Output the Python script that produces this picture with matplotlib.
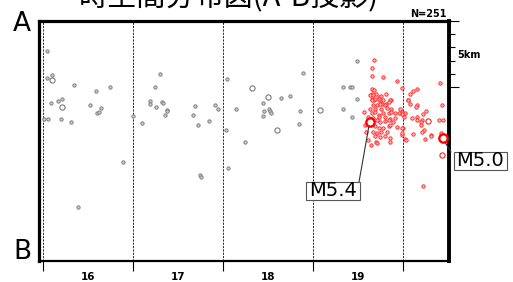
import matplotlib
matplotlib.use("Agg")
import matplotlib.pyplot as plt
from matplotlib.patches import Rectangle
from matplotlib.transforms import blended_transform_factory
import numpy as np

# events before the recent sequence: (decimal year, km from A along A-B)
gray_pts = [
    (2016.05, 2.26), (2016.10, 4.10), (2016.04, 4.31), (2016.34, 4.80), (2016.59, 5.28),
    (2016.74, 4.95), (2016.09, 6.19), (2016.17, 6.04), (2016.21, 5.84), (2016.01, 7.39),
    (2016.06, 7.34), (2016.20, 7.37), (2016.31, 7.63), (2016.52, 6.29), (2016.65, 6.57),
    (2016.60, 6.94), (2016.62, 6.87), (2016.89, 10.62), (2016.39, 13.96),
    (2017.00, 7.14), (2017.10, 7.69), (2017.24, 4.95), (2017.30, 4.03), (2017.19, 6.04),
    (2017.19, 6.22), (2017.26, 6.44), (2017.32, 6.10), (2017.33, 6.17), (2017.38, 6.72),
    (2017.38, 6.81), (2017.36, 7.11), (2017.69, 6.40), (2017.67, 7.07), (2017.72, 7.84),
    (2017.85, 7.51), (2017.91, 6.34), (2017.94, 6.62), (2017.74, 11.59), (2017.76, 11.74),
    (2018.04, 4.40), (2018.14, 6.62), (2018.03, 8.16), (2018.06, 11.02), (2018.25, 9.13),
    (2018.44, 6.14), (2018.64, 5.77), (2018.74, 5.62), (2018.46, 6.81), (2018.51, 6.64),
    (2018.52, 6.77), (2018.53, 6.96), (2018.44, 7.14), (2018.86, 6.74), (2018.84, 7.78),
    (2018.89, 3.96),
    (2019.33, 5.00), (2019.41, 5.00), (2019.43, 5.00), (2019.49, 3.04), (2019.49, 5.90),
    (2019.33, 6.62), (2019.43, 7.22),
]
gray_big = [(2016.10, 4.48), (2016.21, 6.47), (2018.32, 5.05), (2018.50, 5.72),
            (2018.60, 8.16), (2019.08, 6.72)]

# recent sequence (red)
red_pts = [
    (2019.68, 2.96), (2019.66, 3.53), (2019.65, 4.18), (2019.78, 4.25), (2019.93, 4.53),
    (2019.66, 5.10), (2019.68, 5.17), (2019.66, 5.47), (2019.70, 5.52), (2019.73, 5.72),
    (2019.76, 5.65), (2019.81, 5.47), (2019.66, 5.84), (2019.68, 5.97), (2019.74, 6.02),
    (2019.77, 6.22), (2019.81, 6.27), (2019.87, 5.97), (2019.87, 6.66), (2019.91, 6.96),
    (2019.99, 6.84),
    (2020.41, 4.68), (2020.15, 5.10), (2020.11, 5.28), (2020.08, 5.47), (2019.99, 5.02),
    (2020.05, 5.97), (2020.08, 6.27), (2020.15, 6.34), (2020.14, 6.51), (2020.43, 6.29),
    (2020.26, 6.77), (2020.22, 7.01), (2020.15, 7.22), (2020.10, 7.26), (2020.02, 6.96),
    (2019.99, 7.01), (2020.01, 7.22), (2020.21, 7.41), (2020.20, 7.59), (2020.40, 7.41),
    (2020.44, 7.41), (2020.00, 8.08), (2020.23, 8.21), (2020.11, 8.46), (2020.21, 8.38),
    (2020.31, 8.60), (2020.24, 8.90), (2020.02, 8.90), (2019.99, 8.58), (2020.42, 8.41),
    (2020.22, 12.39),
    (2019.63, 5.60), (2019.67, 5.54), (2019.65, 5.97), (2019.69, 5.90), (2019.73, 5.84),
    (2019.78, 5.97), (2019.86, 5.97), (2019.84, 6.10), (2019.67, 6.34), (2019.71, 6.29),
    (2019.74, 6.22), (2019.80, 6.34), (2019.63, 6.59), (2019.69, 6.64), (2019.76, 6.59),
    (2019.82, 6.54), (2019.65, 6.96), (2019.69, 6.84), (2019.73, 7.04), (2019.78, 6.96),
    (2019.84, 6.89), (2019.87, 6.84), (2019.95, 6.89), (2019.61, 7.22), (2019.67, 7.29),
    (2019.73, 7.24), (2019.80, 7.22), (2019.86, 7.34), (2019.91, 7.29), (2019.97, 6.59),
    (2019.71, 7.44), (2019.74, 7.56), (2019.80, 7.51), (2019.84, 7.44), (2019.89, 7.61),
    (2019.69, 7.93), (2019.73, 8.06), (2019.78, 8.01), (2019.84, 7.93), (2019.67, 8.31),
    (2019.71, 8.43), (2019.76, 8.36), (2019.82, 8.31), (2019.69, 8.68), (2019.74, 8.75),
    (2019.80, 8.68), (2019.86, 8.81), (2019.70, 9.10), (2019.86, 9.10), (2019.99, 8.06),
    (2019.99, 8.43), (2019.85, 7.81), (2019.57, 6.87), (2019.58, 7.84), (2019.59, 8.36),
    (2019.64, 9.33), (2019.61, 8.96), (2019.71, 9.15), (2019.93, 7.96), (2020.03, 8.96),
    (2020.06, 5.97), (2020.16, 7.46), (2020.31, 8.66), (2020.20, 7.84),
]
red_big = [(2020.28, 7.51), (2020.43, 10.07)]

# main shocks
main_names = ["M5.4", "M5.0"]
main_year = [2019.63, 2020.44]
main_km = [7.57, 8.83]

years = [2016, 2017, 2018, 2019, 2020]
year_labels = ["16", "17", "18", "19"]

fig = plt.figure(figsize=(5.13, 2.82), dpi=100)
ax = fig.add_axes([39 / 513, 1 - 261 / 282, 410 / 513, 240.5 / 282])

g = np.array(gray_pts)
gb = np.array(gray_big)
r = np.array(red_pts)
rb = np.array(red_big)

ax.scatter(g[:, 0], g[:, 1], s=6, facecolor="#c4c4c4", edgecolor="#7a7a7a", lw=0.6, zorder=3)
ax.scatter(gb[:, 0], gb[:, 1], s=14, facecolor="white", edgecolor="#7a7a7a", lw=0.8, zorder=3)
ax.scatter(r[:, 0], r[:, 1], s=6, facecolor="#ffb4b4", edgecolor="#ff2020", lw=0.6, zorder=4)
ax.scatter(rb[:, 0], rb[:, 1], s=14, facecolor="white", edgecolor="#ff2020", lw=0.8, zorder=4)
ax.scatter(main_year, main_km, s=36, facecolor="white", edgecolor="#ff0000", lw=1.7, zorder=5)

for yr in years:
    ax.axvline(yr, color="black", lw=0.6, ls=(0, (2.5, 1.5)), zorder=1)

ax.set_xlim(2015.956, 2020.511)
ax.set_ylim(18, 0)

# bottom: year ticks, labels centred in each year
ax.set_xticks(years)
ax.set_xticklabels([])
ax.set_xticks([y + 0.5 for y in years[:-1]], year_labels, minor=True)
ax.tick_params(axis="x", which="major", length=7.5, width=0.8, direction="out")
ax.tick_params(axis="x", which="minor", length=0, pad=8)
for lab in ax.get_xticklabels(minor=True):
    lab.set_fontsize(7.5)
    lab.set_fontweight("bold")

# right: 5 km scale bar
ax.yaxis.tick_right()
ax.set_yticks([0, 5])
ax.set_yticklabels([])
ax.set_yticks([1, 2, 3, 4], minor=True)
ax.tick_params(axis="y", which="major", length=7.5, width=0.8, direction="out")
ax.tick_params(axis="y", which="minor", length=4, width=0.8, direction="out")
trans = blended_transform_factory(ax.transAxes, ax.transData)
ax.text(1.02, 2.6, "5km", transform=trans, fontsize=7, fontweight="bold", va="center", ha="left")

ax.spines["left"].set_linewidth(2.3)
ax.spines["top"].set_linewidth(2.3)
ax.spines["right"].set_linewidth(2.8)
ax.spines["bottom"].set_linewidth(1.6)

# leader lines and boxed labels (positions in figure pixels)
H = 282
boxes = [(306, 182, 360, 200), (454, 152, 507, 170)]
anchors = [(359, 182), (451, 152)]
for name, yx, ykm, (x0, y0, x1, y1), (axp, ayp) in zip(main_names, main_year, main_km, boxes, anchors):
    ax.annotate("", xy=(yx, ykm), xytext=(axp, H - ayp), textcoords="figure pixels",
                arrowprops=dict(arrowstyle="-", lw=0.8, color="#333333", shrinkA=0, shrinkB=4),
                annotation_clip=False, zorder=6)
    fig.patches.append(Rectangle((x0 / 513, 1 - y1 / H), (x1 - x0) / 513, (y1 - y0) / H,
                                 transform=fig.transFigure, facecolor="white",
                                 edgecolor="#555555", lw=0.8, zorder=7))
    fig.text((x0 + x1) / 2 / 513, 1 - (y0 + y1) / 2 / H, name, fontsize=14,
             ha="center", va="center", zorder=8)

fig.text(22 / 513, 1 - 24 / H, "A", fontsize=19, ha="center", va="center")
fig.text(22 / 513, 1 - 252 / H, "B", fontsize=19, ha="center", va="center")
fig.text(447 / 513, 1 - 17 / H, "N=251", fontsize=7, fontweight="bold", ha="right", va="baseline")
fig.text(229 / 513, 1 - 6 / H, "時空間分布図(A-B投影)", fontsize=21,
         family=["Noto Sans CJK JP", "DejaVu Sans"], ha="center", va="baseline")

fig.savefig("out.png", dpi=100)
